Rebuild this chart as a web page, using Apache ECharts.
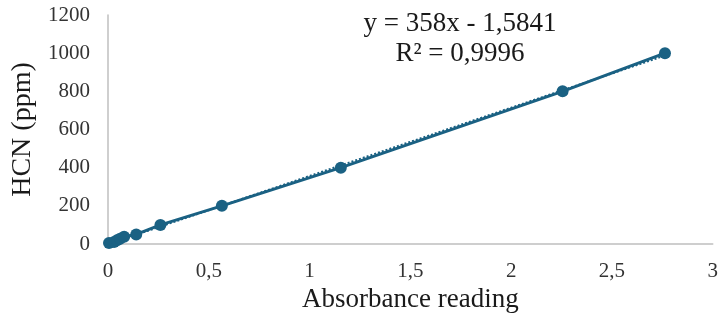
<!DOCTYPE html>
<html>
<head>
<meta charset="utf-8">
<script src="https://cdn.jsdelivr.net/npm/echarts@6/dist/echarts.min.js"></script>
<style>
  html, body { margin: 0; padding: 0; background: #fff; }
  #chart { width: 721px; height: 322px; }
</style>
</head>
<body>
<div id="chart"></div>
<script>
// absorbance readings and HCN standards (ppm)
const absorbance = [0.005, 0.03, 0.045, 0.06, 0.08, 0.14, 0.26, 0.565, 1.155, 2.255, 2.763]
const hcn = [5, 10, 20, 28, 38, 50, 100, 200, 400, 800, 1000]
// linear fit shown on the chart
const slope = 358
const intercept = -1.5841

const color = '#1a6183'
const font = '"Liberation Serif", "Times New Roman", serif'

const points = absorbance.map((x, i) => [x, hcn[i]])
const xMin = absorbance[0]
const xMax = absorbance[absorbance.length - 1]
const trend = [[xMin, slope * xMin + intercept], [xMax, slope * xMax + intercept]]

const chart = echarts.init(document.getElementById('chart'))
chart.setOption({
  animation: false,
  grid: { left: 108, right: 5, top: 15, bottom: 78 },
  xAxis: {
    type: 'value',
    min: 0,
    max: 3,
    interval: 0.5,
    name: 'Absorbance reading',
    nameLocation: 'middle',
    nameGap: 42,
    nameTextStyle: { fontFamily: font, fontSize: 27, color: '#1a1a1a' },
    axisLine: { lineStyle: { color: '#bfbfbf', width: 1.5 } },
    axisTick: { show: false },
    splitLine: { show: false },
    axisLabel: {
      fontFamily: font, fontSize: 21, color: '#333', margin: 17,
      formatter: v => String(v).replace('.', ',')
    }
  },
  yAxis: {
    type: 'value',
    min: 0,
    max: 1200,
    interval: 200,
    name: 'HCN (ppm)',
    nameLocation: 'middle',
    nameGap: 68,
    nameTextStyle: { fontFamily: font, fontSize: 28, color: '#1a1a1a' },
    axisLine: { show: true, lineStyle: { color: '#bfbfbf', width: 1.5 } },
    axisTick: { show: false },
    splitLine: { show: false },
    axisLabel: { fontFamily: font, fontSize: 21, color: '#333', margin: 18, formatter: v => String(v) }
  },
  graphic: [
    {
      type: 'text', x: 460, y: 24,
      style: { text: 'y = 358x - 1,5841', align: 'center', verticalAlign: 'middle', fontFamily: font, fontSize: 27, fill: '#1a1a1a' }
    },
    {
      type: 'text', x: 460, y: 54,
      style: { text: 'R² = 0,9996', align: 'center', verticalAlign: 'middle', fontFamily: font, fontSize: 27, fill: '#1a1a1a' }
    }
  ],
  series: [
    {
      type: 'line',
      data: trend,
      symbol: 'none',
      lineStyle: { color: color, width: 2, type: 'dotted' },
      silent: true,
      z: 1
    },
    {
      type: 'line',
      data: points,
      symbol: 'circle',
      symbolSize: 12,
      itemStyle: { color: color },
      lineStyle: { color: color, width: 3 },
      z: 2
    }
  ]
})
</script>
</body>
</html>
